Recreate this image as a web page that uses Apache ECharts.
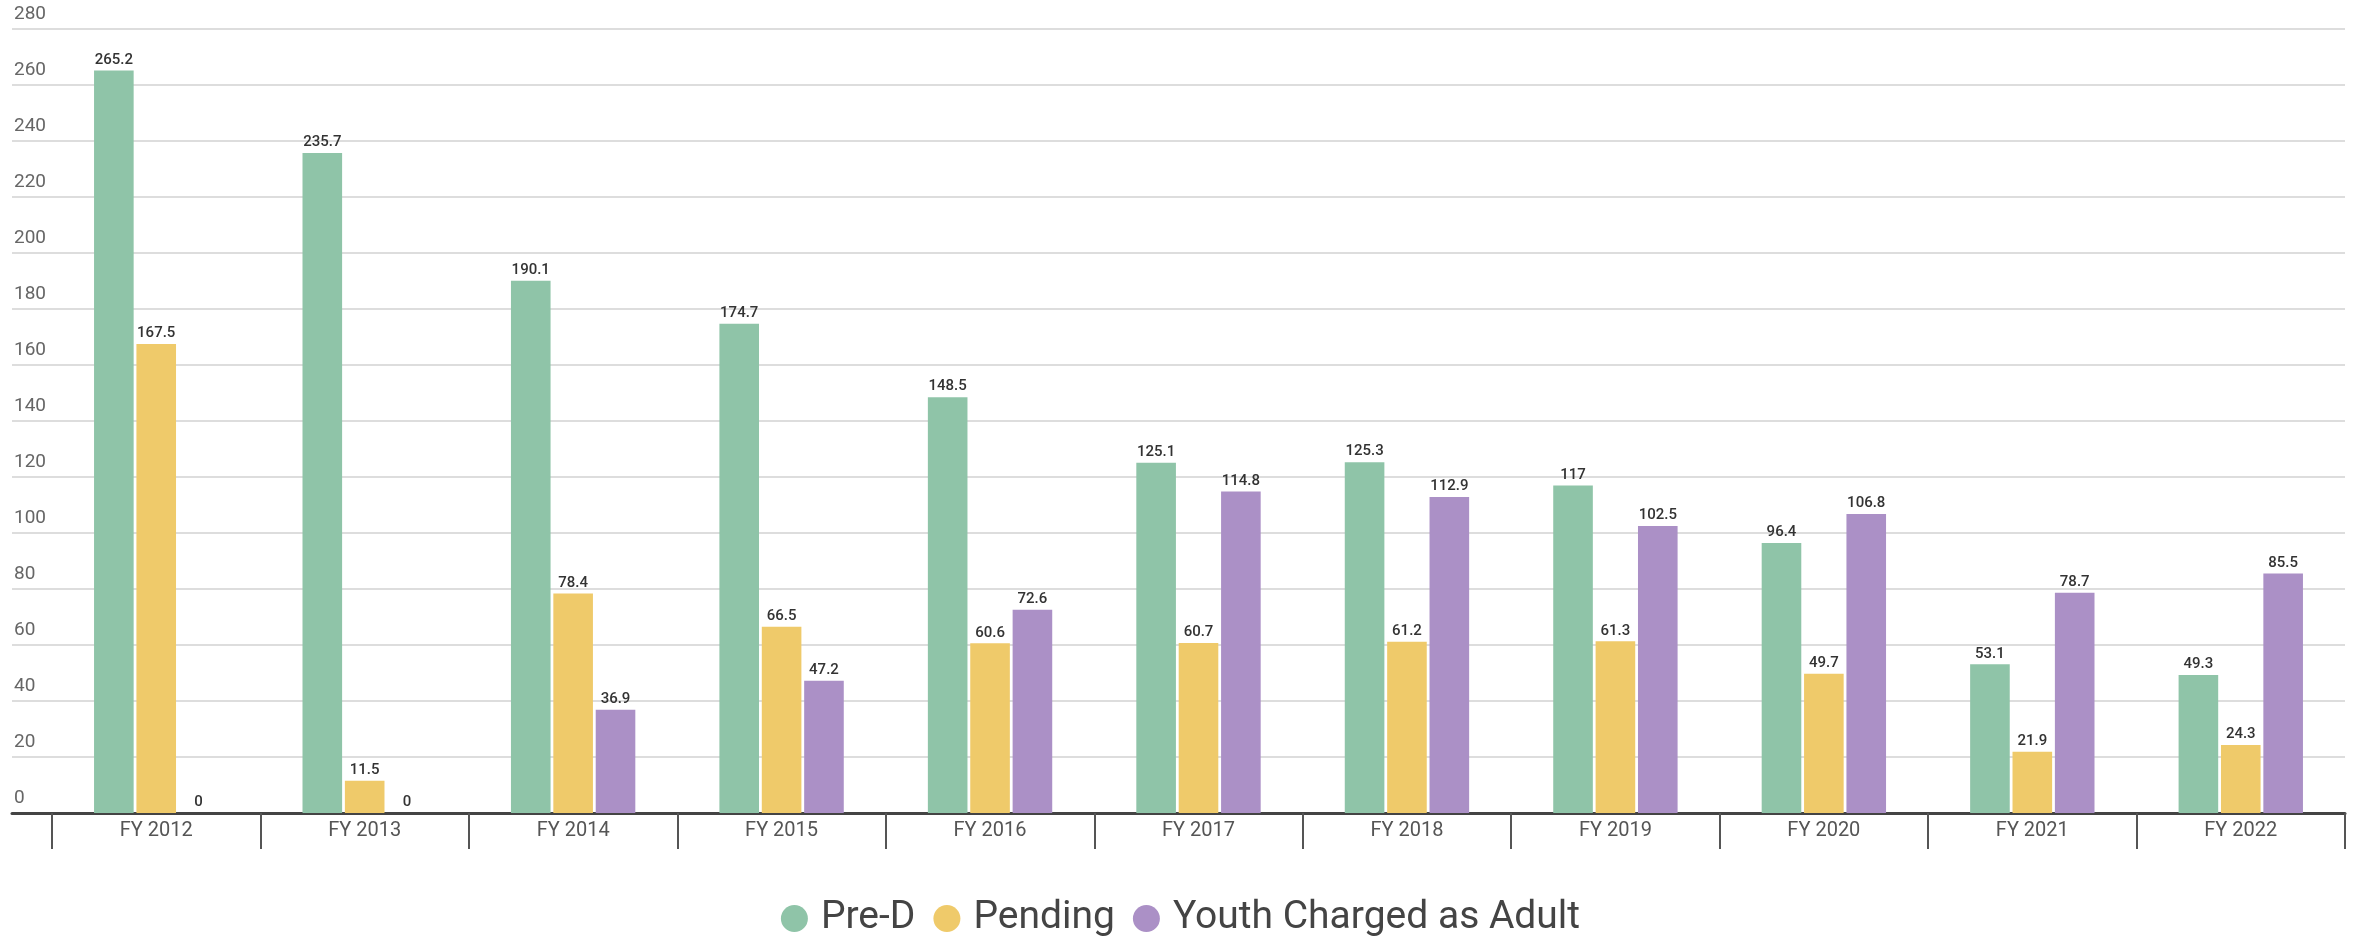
<!DOCTYPE html>
<html>
<head>
<meta charset="utf-8">
<script src="https://cdn.jsdelivr.net/npm/echarts@6/dist/echarts.min.js"></script>
<style>html,body{margin:0;padding:0;background:#fff;}#c{width:2361px;height:936px;}</style>
</head>
<body>
<div id="c"></div>
<script>
const categories = ['FY 2012','FY 2013','FY 2014','FY 2015','FY 2016','FY 2017','FY 2018','FY 2019','FY 2020','FY 2021','FY 2022'];
const preD = [265.2, 235.7, 190.1, 174.7, 148.5, 125.1, 125.3, 117, 96.4, 53.1, 49.3];
const pending = [167.5, 11.5, 78.4, 66.5, 60.6, 60.7, 61.2, 61.3, 49.7, 21.9, 24.3];
const youthAdult = [0, 0, 36.9, 47.2, 72.6, 114.8, 112.9, 102.5, 106.8, 78.7, 85.5];
const seriesNames = ['Pre-D', 'Pending', 'Youth Charged as Adult'];
const colors = ['#8FC4A8', '#EFCA6A', '#AB90C6'];

const chart = echarts.init(document.getElementById('c'));
const labelStyle = {show: true, position: 'top', distance: 3, fontFamily: 'Roboto', fontSize: 15, fontWeight: 500, color: '#333'};
function mk(name, data, color) {
  return {name, type: 'bar', xAxisIndex: 1, yAxisIndex: 1, data, barWidth: '19%', barGap: '7%',
    itemStyle: {color}, label: labelStyle};
}
chart.setOption({
  animation: false,
  color: colors,
  textStyle: {fontFamily: 'Roboto'},
  grid: [
    {left: 12, right: 16, top: 29, bottom: 123},
    {left: 52, right: 16, top: 29, bottom: 123}
  ],
  legend: {
    top: 894, left: 'center', icon: 'circle', itemWidth: 27, itemHeight: 27, itemGap: 18,
    textStyle: {fontSize: 39, color: '#444', fontFamily: 'Roboto', padding: [0, 0, 0, 8]},
    data: seriesNames
  },
  xAxis: [
    {type: 'category', gridIndex: 0, data: categories, axisLine: {show: true, lineStyle: {color: '#444', width: 3}},
     axisTick: {show: false}, axisLabel: {show: false}},
    {type: 'category', gridIndex: 1, data: categories, axisLine: {show: false},
     axisTick: {show: true, length: 36, lineStyle: {color: '#555', width: 2}},
     axisLabel: {margin: 8, fontSize: 20, color: '#555', fontFamily: 'Roboto'}}
  ],
  yAxis: [
    {type: 'value', gridIndex: 0, min: 0, max: 280, interval: 20,
     axisLine: {show: false}, axisTick: {show: false},
     splitLine: {lineStyle: {color: '#DDDDDD', width: 2}},
     axisLabel: {inside: true, margin: 2, fontSize: 19, color: '#666', verticalAlign: 'bottom', padding: [0,0,5,0], fontFamily: 'Roboto'}},
    {type: 'value', gridIndex: 1, min: 0, max: 280, interval: 20, show: false, splitLine: {show: false}}
  ],
  series: [
    mk(seriesNames[0], preD, colors[0]),
    mk(seriesNames[1], pending, colors[1]),
    mk(seriesNames[2], youthAdult, colors[2])
  ]
});
</script>
</body>
</html>
